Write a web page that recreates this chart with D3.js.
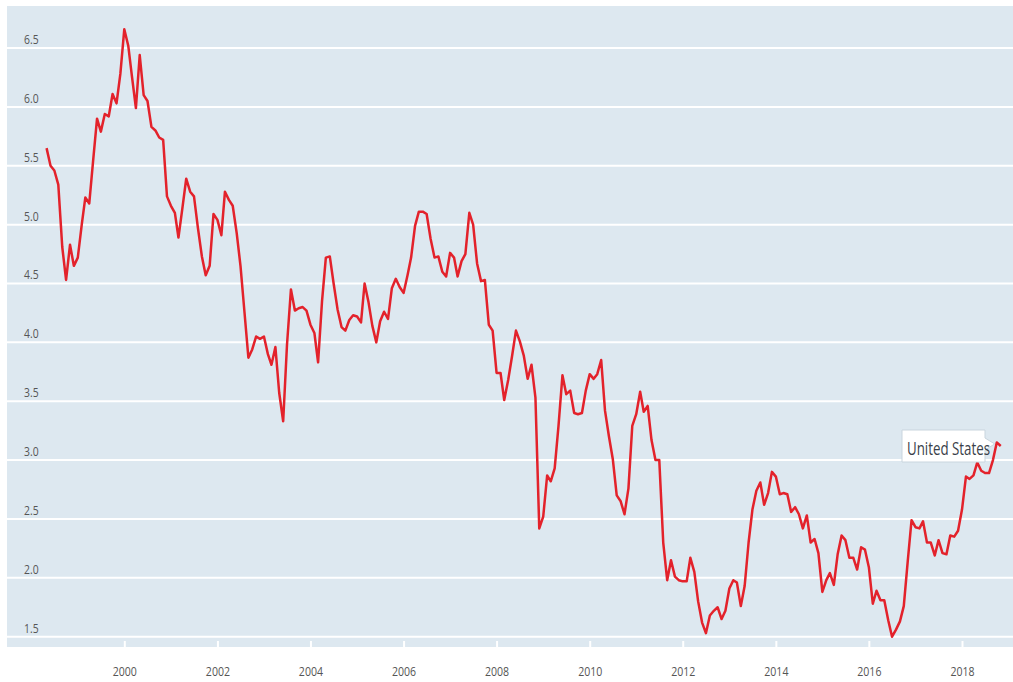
<!DOCTYPE html>
<html>
<head>
<meta charset="utf-8">
<script src="https://cdn.jsdelivr.net/npm/d3@7"></script>
<style>
  html, body { margin: 0; padding: 0; background: #ffffff; }
  svg { display: block; }
</style>
</head>
<body>
<svg id="chart" width="1013" height="682"></svg>
<script>
// ---- Data: monthly values, May 1998 .. Nov 2018 ----
const seriesName = "United States";
const startYear = 1998;
const startMonth = 4; // 0-based month index (May)
const values = [
  // 1998 May-Dec
  5.65, 5.50, 5.46, 5.34, 4.81, 4.53, 4.83, 4.65,
  // 1999
  4.72, 5.00, 5.23, 5.18, 5.54, 5.90, 5.79, 5.94, 5.92, 6.11, 6.03, 6.28,
  // 2000
  6.66, 6.52, 6.26, 5.99, 6.44, 6.10, 6.05, 5.83, 5.80, 5.74, 5.72, 5.24,
  // 2001
  5.16, 5.10, 4.89, 5.14, 5.39, 5.28, 5.24, 4.97, 4.73, 4.57, 4.65, 5.09,
  // 2002
  5.04, 4.91, 5.28, 5.21, 5.16, 4.93, 4.65, 4.26, 3.87, 3.94, 4.05, 4.03,
  // 2003
  4.05, 3.90, 3.81, 3.96, 3.57, 3.33, 3.98, 4.45, 4.27, 4.29, 4.30, 4.27,
  // 2004
  4.15, 4.08, 3.83, 4.35, 4.72, 4.73, 4.50, 4.28, 4.13, 4.10, 4.19, 4.23,
  // 2005
  4.22, 4.17, 4.50, 4.34, 4.14, 4.00, 4.18, 4.26, 4.20, 4.46, 4.54, 4.47,
  // 2006
  4.42, 4.57, 4.72, 4.99, 5.11, 5.11, 5.09, 4.88, 4.72, 4.73, 4.60, 4.56,
  // 2007
  4.76, 4.72, 4.56, 4.69, 4.75, 5.10, 5.00, 4.67, 4.52, 4.53, 4.15, 4.10,
  // 2008
  3.74, 3.74, 3.51, 3.68, 3.88, 4.10, 4.01, 3.89, 3.69, 3.81, 3.53, 2.42,
  // 2009
  2.52, 2.87, 2.82, 2.93, 3.29, 3.72, 3.56, 3.59, 3.40, 3.39, 3.40, 3.59,
  // 2010
  3.73, 3.69, 3.73, 3.85, 3.42, 3.20, 3.01, 2.70, 2.65, 2.54, 2.76, 3.29,
  // 2011
  3.39, 3.58, 3.41, 3.46, 3.17, 3.00, 3.00, 2.30, 1.98, 2.15, 2.01, 1.98,
  // 2012
  1.97, 1.97, 2.17, 2.05, 1.80, 1.62, 1.53, 1.68, 1.72, 1.75, 1.65, 1.72,
  // 2013
  1.91, 1.98, 1.96, 1.76, 1.93, 2.30, 2.58, 2.74, 2.81, 2.62, 2.72, 2.90,
  // 2014
  2.86, 2.71, 2.72, 2.71, 2.56, 2.60, 2.54, 2.42, 2.53, 2.30, 2.33, 2.21,
  // 2015
  1.88, 1.98, 2.04, 1.94, 2.20, 2.36, 2.32, 2.17, 2.17, 2.07, 2.26, 2.24,
  // 2016
  2.09, 1.78, 1.89, 1.81, 1.81, 1.64, 1.50, 1.56, 1.63, 1.76, 2.14, 2.49,
  // 2017
  2.43, 2.42, 2.48, 2.30, 2.30, 2.19, 2.32, 2.21, 2.20, 2.36, 2.35, 2.40,
  // 2018 Jan-Nov
  2.58, 2.86, 2.84, 2.87, 2.98, 2.91, 2.89, 2.89, 3.00, 3.15, 3.12
];
const yTicks = [1.5, 2.0, 2.5, 3.0, 3.5, 4.0, 4.5, 5.0, 5.5, 6.0, 6.5];
const xTickYears = [2000, 2002, 2004, 2006, 2008, 2010, 2012, 2014, 2016, 2018];

const data = values.map((v, i) => ({ date: new Date(startYear, startMonth + i, 1), value: v }));

// ---- Layout ----
const svg = d3.select("#chart");
const plot = { left: 7, top: 6, right: 1013, bottom: 647 };

const x = d3.scaleTime()
  .domain([new Date(2000, 0, 1), new Date(2018, 0, 1)])
  .range([124.3, 962]);
const y = d3.scaleLinear()
  .domain([1.4125, 6.857])
  .range([plot.bottom, plot.top]);

// background
svg.append("rect")
  .attr("x", plot.left).attr("y", plot.top)
  .attr("width", plot.right - plot.left).attr("height", plot.bottom - plot.top)
  .attr("fill", "#dde8f0");

// gridlines
svg.append("g").selectAll("line").data(yTicks).join("line")
  .attr("x1", plot.left).attr("x2", plot.right)
  .attr("y1", d => y(d)).attr("y2", d => y(d))
  .attr("stroke", "#ffffff").attr("stroke-width", 2);

// y labels
svg.append("g").selectAll("text").data(yTicks).join("text")
  .attr("transform", d => `translate(24,${y(d) - 4}) scale(0.8,1)`)
  .attr("font-family", "'Open Sans', sans-serif")
  .attr("font-size", 13)
  .attr("fill", "#555555")
  .text(d => d.toFixed(1));

// x axis ticks (white marks inside the background bottom)
const xAxis = d3.axisBottom(x)
  .tickValues(xTickYears.map(yr => new Date(yr, 0, 1)))
  .tickFormat(d3.timeFormat("%Y"))
  .tickSize(6)
  .tickPadding(0);
const gx = svg.append("g").attr("transform", `translate(0,${plot.bottom - 6})`).call(xAxis);
gx.select(".domain").remove();
gx.selectAll(".tick line").attr("stroke", "#ffffff").attr("stroke-width", 2);
gx.selectAll(".tick text")
  .attr("y", 0).attr("dy", 0)
  .attr("transform", "translate(0,35) scale(0.88,1)")
  .attr("font-family", "'Open Sans', sans-serif")
  .attr("font-size", 12)
  .attr("fill", "#555555");

// line
const line = d3.line().x(d => x(d.date)).y(d => y(d.value));
svg.append("path")
  .datum(data)
  .attr("d", line)
  .attr("fill", "none")
  .attr("stroke", "#e3222b")
  .attr("stroke-width", 2.5)
  .attr("stroke-linejoin", "round");

// tooltip
const last = data[data.length - 1];
const lx = x(last.date), ly = y(last.value);
const bx = 902, by = 430, bw = 83, bh = 32;
const tip = svg.append("g");
tip.append("path")
  .attr("d", `M${bx},${by} H${bx + bw} V${by + 8} L${lx - 6},${ly - 2} L${bx + bw},${by + 20} V${by + bh} H${bx} Z`)
  .attr("fill", "#ffffff")
  .attr("stroke", "#c9d5de")
  .attr("stroke-width", 1);
tip.append("text")
  .attr("transform", `translate(${bx + 5},${by + 25}) scale(0.74,1)`)
  .attr("font-family", "'Open Sans', sans-serif")
  .attr("font-size", 18)
  .attr("fill", "#3a3f4a")
  .text(seriesName);
</script>
</body>
</html>
